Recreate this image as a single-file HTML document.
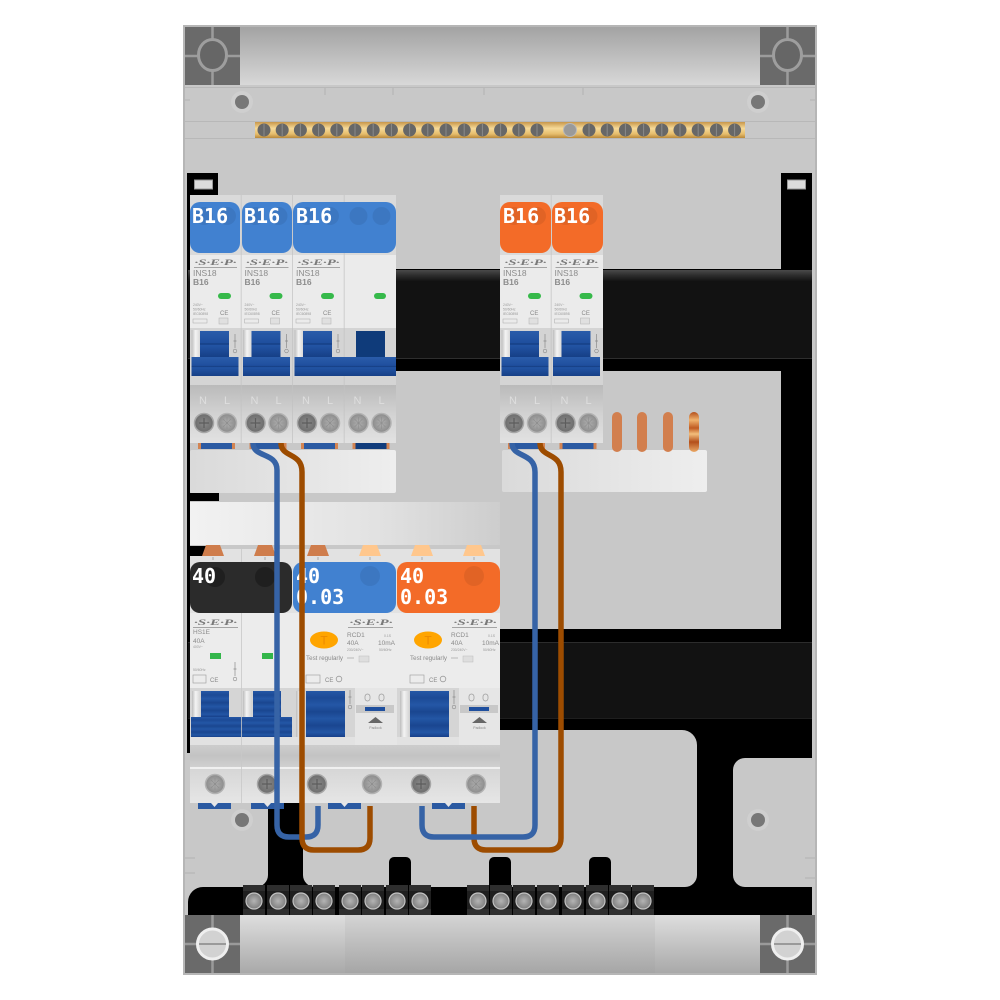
<!DOCTYPE html>
<html><head><meta charset="utf-8">
<style>
html,body{margin:0;padding:0;background:#fff;}
svg{display:block;}
.lg{font-family:"Liberation Serif",serif;font-style:italic;font-weight:bold;font-size:8.5px;fill:#7a7a7a;}
.s8{font-family:"Liberation Sans",sans-serif;font-size:8.5px;fill:#8c8c8c;}
.s8b{font-family:"Liberation Sans",sans-serif;font-size:8.5px;font-weight:bold;fill:#8c8c8c;}
.s7{font-family:"Liberation Sans",sans-serif;font-size:6.5px;fill:#8a8a8a;}
.s6{font-family:"Liberation Sans",sans-serif;font-size:4px;fill:#999;}
.t3{font-family:"Liberation Sans",sans-serif;font-size:3.4px;fill:#999;}
.ce{font-family:"Liberation Sans",sans-serif;font-size:6px;fill:#888;}
.nl{font-family:"Liberation Sans",sans-serif;font-size:11px;fill:#dedede;}
.cap{font-family:"DejaVu Sans Mono","Liberation Mono",monospace;font-weight:bold;font-size:20px;fill:#fff;}
</style></head><body>
<svg width="1000" height="1000" viewBox="0 0 1000 1000" xmlns="http://www.w3.org/2000/svg">
<defs>
<linearGradient id="gTop" x1="0" y1="0" x2="0" y2="1"><stop offset="0" stop-color="#a3a3a3"/><stop offset="1" stop-color="#d8d8d8"/></linearGradient>
<linearGradient id="gBot" x1="0" y1="0" x2="0" y2="1"><stop offset="0" stop-color="#dedede"/><stop offset="1" stop-color="#a9a9a9"/></linearGradient>
<linearGradient id="gBot2" x1="0" y1="0" x2="0" y2="1"><stop offset="0" stop-color="#d4d4d4"/><stop offset="1" stop-color="#a6a6a6"/></linearGradient>
<linearGradient id="gGold" x1="0" y1="0" x2="0" y2="1"><stop offset="0" stop-color="#c8974a"/><stop offset=".4" stop-color="#f6da98"/><stop offset=".75" stop-color="#e6bd6c"/><stop offset="1" stop-color="#b9893a"/></linearGradient>
<linearGradient id="gBlue" x1="0" y1="0" x2="0" y2="1"><stop offset="0" stop-color="#2a5caa"/><stop offset=".45" stop-color="#1f4f9e"/><stop offset=".5" stop-color="#143c80"/><stop offset=".55" stop-color="#2254a4"/><stop offset="1" stop-color="#163f86"/></linearGradient>
<linearGradient id="gBlue2" x1="0" y1="0" x2="0" y2="1"><stop offset="0" stop-color="#2457a6"/><stop offset=".15" stop-color="#1c4a96"/><stop offset=".3" stop-color="#2457a6"/><stop offset=".45" stop-color="#1a4690"/><stop offset=".6" stop-color="#2356a5"/><stop offset=".75" stop-color="#1a4690"/><stop offset=".9" stop-color="#2356a5"/><stop offset="1" stop-color="#17408a"/></linearGradient>
<linearGradient id="gWs" x1="0" y1="0" x2="1" y2="0"><stop offset="0" stop-color="#bdbdbd"/><stop offset=".4" stop-color="#f4f4f4"/><stop offset="1" stop-color="#d0d0d0"/></linearGradient>
<linearGradient id="gTerm" x1="0" y1="0" x2="0" y2="1"><stop offset="0" stop-color="#bababa"/><stop offset=".5" stop-color="#d2d2d2"/><stop offset="1" stop-color="#e2e2e2"/></linearGradient>
<linearGradient id="gBand" x1="0" y1="0" x2="0" y2="1"><stop offset="0" stop-color="#cdcdcd"/><stop offset=".5" stop-color="#c3c3c3"/><stop offset="1" stop-color="#d0d0d0"/></linearGradient>
<linearGradient id="gTerm2" x1="0" y1="0" x2="0" y2="1"><stop offset="0" stop-color="#d6d6d6"/><stop offset="1" stop-color="#e6e6e6"/></linearGradient>
<radialGradient id="gSd"><stop offset="0" stop-color="#8a8a8a"/><stop offset="1" stop-color="#6c6c6c"/></radialGradient>
<radialGradient id="gSl"><stop offset="0" stop-color="#b4b4b4"/><stop offset="1" stop-color="#8a8a8a"/></radialGradient>
<radialGradient id="gSt"><stop offset="0" stop-color="#b4b4b4"/><stop offset="1" stop-color="#7e7e7e"/></radialGradient>
<linearGradient id="gComb" x1="0" y1="0" x2="1" y2="0"><stop offset="0" stop-color="#dadada"/><stop offset="1" stop-color="#eeeeee"/></linearGradient>
<linearGradient id="gComb2" x1="0" y1="0" x2="1" y2="0"><stop offset="0" stop-color="#f2f2f2"/><stop offset=".6" stop-color="#e2e2e2"/><stop offset="1" stop-color="#cdcdcd"/></linearGradient>
<linearGradient id="gRailHi" x1="0" y1="0" x2="0" y2="1"><stop offset="0" stop-color="#4a4a4a"/><stop offset=".5" stop-color="#2c2c2c"/><stop offset="1" stop-color="#141414"/></linearGradient>
<linearGradient id="gPin" x1="0" y1="0" x2="0" y2="1"><stop offset="0" stop-color="#b4501c"/><stop offset=".2" stop-color="#f0b26e"/><stop offset=".4" stop-color="#c05a22"/><stop offset=".55" stop-color="#f3be7c"/><stop offset=".75" stop-color="#b34e1a"/><stop offset="1" stop-color="#eaa866"/></linearGradient>
</defs>

<!-- enclosure -->
<rect x="183" y="25" width="634" height="950" fill="#b6b6b6"/>
<rect x="185" y="27" width="630" height="946" fill="#c8c8c8"/>
<line x1="185" y1="87.5" x2="815" y2="87.5" stroke="#b8b8b8" stroke-width="1"/>
<line x1="185" y1="121.5" x2="815" y2="121.5" stroke="#b8b8b8" stroke-width="1"/>
<line x1="185" y1="138.5" x2="815" y2="138.5" stroke="#b8b8b8" stroke-width="1"/>
<path d="M325 88v7M393 88v7M484 88v7M583 88v7M185 858h10M185 873h10M805 858h10M805 878h10M190 100h-5M810 100h5" stroke="#b2b2b2" stroke-width="1"/>

<!-- top strip + corners -->
<rect x="240" y="27" width="520" height="58" fill="url(#gTop)"/>
<g>
<rect x="185" y="27" width="55" height="58" fill="#6a6a6a"/>
<path d="M212.5 27v58M185 56h55" stroke="#9c9c9c" stroke-width="2.5"/>
<ellipse cx="212.5" cy="55" rx="14" ry="15.5" fill="#666" stroke="#9e9e9e" stroke-width="3"/>
<rect x="760" y="27" width="55" height="58" fill="#6a6a6a"/>
<path d="M787.5 27v58M760 56h55" stroke="#9c9c9c" stroke-width="2.5"/>
<ellipse cx="787.5" cy="55" rx="14" ry="15.5" fill="#666" stroke="#9e9e9e" stroke-width="3"/>
</g>

<!-- screw holes -->
<circle cx="242" cy="102" r="11" fill="#cfcfcf"/><circle cx="242" cy="102" r="7" fill="#777"/>
<circle cx="758" cy="102" r="11" fill="#cfcfcf"/><circle cx="758" cy="102" r="7" fill="#777"/>
<circle cx="242" cy="820" r="11" fill="#cfcfcf"/><circle cx="242" cy="820" r="7" fill="#777"/>
<circle cx="758" cy="820" r="11" fill="#cfcfcf"/><circle cx="758" cy="820" r="7" fill="#777"/>

<!-- busbar -->
<rect x="255" y="122" width="490" height="16" fill="url(#gGold)"/>
<g fill="#676767">
<circle cx="264" cy="130" r="6.5"/><circle cx="282.2" cy="130" r="6.5"/><circle cx="300.4" cy="130" r="6.5"/><circle cx="318.6" cy="130" r="6.5"/><circle cx="336.8" cy="130" r="6.5"/><circle cx="355" cy="130" r="6.5"/><circle cx="373.2" cy="130" r="6.5"/><circle cx="391.4" cy="130" r="6.5"/><circle cx="409.6" cy="130" r="6.5"/><circle cx="427.8" cy="130" r="6.5"/><circle cx="446" cy="130" r="6.5"/><circle cx="464.2" cy="130" r="6.5"/><circle cx="482.4" cy="130" r="6.5"/><circle cx="500.6" cy="130" r="6.5"/><circle cx="518.8" cy="130" r="6.5"/><circle cx="537" cy="130" r="6.5"/>
<circle cx="589" cy="130" r="6.5"/><circle cx="607.2" cy="130" r="6.5"/><circle cx="625.4" cy="130" r="6.5"/><circle cx="643.6" cy="130" r="6.5"/><circle cx="661.8" cy="130" r="6.5"/><circle cx="680" cy="130" r="6.5"/><circle cx="698.2" cy="130" r="6.5"/><circle cx="716.4" cy="130" r="6.5"/><circle cx="734.6" cy="130" r="6.5"/>
</g>
<circle cx="570" cy="130" r="6.5" fill="#9a9a9a" stroke="#b8b8b8" stroke-width="1"/>
<path d="M264 124v12M282.2 124v12M300.4 124v12M318.6 124v12M336.8 124v12M355 124v12M373.2 124v12M391.4 124v12M409.6 124v12M427.8 124v12M446 124v12M464.2 124v12M482.4 124v12M500.6 124v12M518.8 124v12M537 124v12M589 124v12M607.2 124v12M625.4 124v12M643.6 124v12M661.8 124v12M680 124v12M698.2 124v12M716.4 124v12M734.6 124v12" stroke="#8a8a8a" stroke-width="1"/>
<path d="M258 130h285M583 130h158" stroke="#8a8a8a" stroke-width="0" />

<!-- black structure -->
<rect x="187" y="173" width="3" height="580" fill="#000"/>
<rect x="188" y="173" width="30" height="23" fill="#000"/>
<rect x="194.5" y="180" width="18" height="9" fill="#dcdcdc" stroke="#999" stroke-width="1"/>
<rect x="781" y="173" width="31" height="585" fill="#000"/>
<rect x="787.5" y="180" width="18" height="9" fill="#dcdcdc" stroke="#999" stroke-width="1"/>
<!-- top rail -->
<rect x="188" y="269" width="624" height="102" fill="#000"/>
<rect x="188" y="270" width="624" height="11" fill="url(#gRailHi)"/>
<rect x="188" y="281" width="624" height="77" fill="#121212"/>
<line x1="188" y1="358.5" x2="812" y2="358.5" stroke="#2e2e2e"/>
<!-- lower rail -->
<rect x="188" y="629" width="624" height="101" fill="#000"/>
<rect x="188" y="642" width="624" height="76" fill="#121212"/>
<line x1="188" y1="642.5" x2="812" y2="642.5" stroke="#2c2c2c"/>
<line x1="188" y1="718.5" x2="812" y2="718.5" stroke="#1e1e1e"/>
<!-- right I-beam -->
<rect x="697" y="729" width="115" height="29" fill="#000"/>
<rect x="697" y="729" width="36" height="160" fill="#000"/>
<path d="M682 730 L697 730 L697 745 A15 15 0 0 0 682 730 Z" fill="#000"/>
<path d="M697 875 L697 887 L685 887 A12 12 0 0 0 697 875 Z" fill="#000"/>
<path d="M733 758 L745 758 A12 12 0 0 0 733 770 Z" fill="#000"/>
<path d="M733 887 L745 887 A12 12 0 0 1 733 875 Z" fill="#000"/>
<!-- left stem -->
<rect x="268" y="795" width="35" height="94" fill="#000"/>
<path d="M268 875 L268 887 L256 887 A12 12 0 0 0 268 875 Z" fill="#000"/>
<path d="M303 875 L303 887 L315 887 A12 12 0 0 1 303 875 Z" fill="#000"/>
<!-- tabs -->
<rect x="389" y="857" width="22" height="35" rx="5" fill="#000"/>
<rect x="489" y="857" width="22" height="35" rx="5" fill="#000"/>
<rect x="589" y="857" width="22" height="35" rx="5" fill="#000"/>
<!-- bottom bar -->
<path d="M188 915 L188 902 A15 15 0 0 1 203 887 L812 887 L812 915 Z" fill="#000"/>

<!-- terminal blocks -->
<g>
<g fill="#1f1f1f">
<rect x="243" y="885" width="22" height="31"/><rect x="267" y="885" width="22" height="31"/><rect x="290" y="885" width="22" height="31"/><rect x="313" y="885" width="22" height="31"/><rect x="339" y="885" width="22" height="31"/><rect x="362" y="885" width="22" height="31"/><rect x="386" y="885" width="22" height="31"/><rect x="409" y="885" width="22" height="31"/>
<rect x="467" y="885" width="22" height="31"/><rect x="490" y="885" width="22" height="31"/><rect x="513" y="885" width="22" height="31"/><rect x="537" y="885" width="22" height="31"/><rect x="562" y="885" width="22" height="31"/><rect x="586" y="885" width="22" height="31"/><rect x="609" y="885" width="22" height="31"/><rect x="632" y="885" width="22" height="31"/>
</g>
<g fill="#2e2e2e">
<rect x="243" y="885" width="22" height="6"/><rect x="267" y="885" width="22" height="6"/><rect x="290" y="885" width="22" height="6"/><rect x="313" y="885" width="22" height="6"/><rect x="339" y="885" width="22" height="6"/><rect x="362" y="885" width="22" height="6"/><rect x="386" y="885" width="22" height="6"/><rect x="409" y="885" width="22" height="6"/>
<rect x="467" y="885" width="22" height="6"/><rect x="490" y="885" width="22" height="6"/><rect x="513" y="885" width="22" height="6"/><rect x="537" y="885" width="22" height="6"/><rect x="562" y="885" width="22" height="6"/><rect x="586" y="885" width="22" height="6"/><rect x="609" y="885" width="22" height="6"/><rect x="632" y="885" width="22" height="6"/>
<rect x="243" y="909" width="22" height="6"/><rect x="267" y="909" width="22" height="6"/><rect x="290" y="909" width="22" height="6"/><rect x="313" y="909" width="22" height="6"/><rect x="339" y="909" width="22" height="6"/><rect x="362" y="909" width="22" height="6"/><rect x="386" y="909" width="22" height="6"/><rect x="409" y="909" width="22" height="6"/>
<rect x="467" y="909" width="22" height="6"/><rect x="490" y="909" width="22" height="6"/><rect x="513" y="909" width="22" height="6"/><rect x="537" y="909" width="22" height="6"/><rect x="562" y="909" width="22" height="6"/><rect x="586" y="909" width="22" height="6"/><rect x="609" y="909" width="22" height="6"/><rect x="632" y="909" width="22" height="6"/>
</g>
<g fill="url(#gSt)" stroke="#c4c4c4" stroke-width="1.2">
<circle cx="254" cy="901" r="8"/><circle cx="278" cy="901" r="8"/><circle cx="301" cy="901" r="8"/><circle cx="324" cy="901" r="8"/><circle cx="350" cy="901" r="8"/><circle cx="373" cy="901" r="8"/><circle cx="397" cy="901" r="8"/><circle cx="420" cy="901" r="8"/>
<circle cx="478" cy="901" r="8"/><circle cx="501" cy="901" r="8"/><circle cx="524" cy="901" r="8"/><circle cx="548" cy="901" r="8"/><circle cx="573" cy="901" r="8"/><circle cx="597" cy="901" r="8"/><circle cx="620" cy="901" r="8"/><circle cx="643" cy="901" r="8"/>
</g>
</g>

<!-- bottom strip + corners -->
<rect x="240" y="915" width="105" height="58" fill="url(#gBot)"/>
<rect x="345" y="915" width="310" height="58" fill="url(#gBot2)"/>
<rect x="655" y="915" width="105" height="58" fill="url(#gBot)"/>
<rect x="185" y="915" width="55" height="58" fill="#6a6a6a"/>
<path d="M212.5 915v58M185 944h55" stroke="#9a9a9a" stroke-width="2.5"/>
<circle cx="212.5" cy="944" r="15" fill="#d2d2d2" stroke="#efefef" stroke-width="3"/>
<line x1="199" y1="944" x2="226" y2="944" stroke="#9a9a9a" stroke-width="2"/>
<rect x="760" y="915" width="55" height="58" fill="#6a6a6a"/>
<path d="M787.5 915v58M760 944h55" stroke="#9a9a9a" stroke-width="2.5"/>
<circle cx="787.5" cy="944" r="15" fill="#d2d2d2" stroke="#efefef" stroke-width="3"/>
<line x1="774" y1="944" x2="801" y2="944" stroke="#9a9a9a" stroke-width="2"/>

<!-- comb busbars -->
<rect x="190" y="450" width="206" height="43" rx="2" fill="url(#gComb)"/>
<rect x="502" y="450" width="205" height="42" rx="2" fill="url(#gComb)"/>
<rect x="188" y="493" width="31" height="8" fill="#000"/>
<rect x="190" y="502" width="310" height="43" fill="url(#gComb2)"/>
<!-- copper pins right -->
<rect x="612" y="412" width="10" height="40" rx="5" fill="#d27f4e"/>
<rect x="637" y="412" width="10" height="40" rx="5" fill="#d27f4e"/>
<rect x="663" y="412" width="10" height="40" rx="5" fill="#d27f4e"/>
<rect x="689" y="412" width="10" height="40" rx="5" fill="url(#gPin)"/>

<!-- ===== TOP MODULES ===== -->
<!-- template module at 190 -->
<g transform="translate(190,0)">
<rect x="0" y="195" width="51.5" height="248" fill="#dadada"/>
<rect x="0" y="255" width="51.5" height="73" fill="#ebebeb"/>
<text class="lg" x="25.5" y="265" text-anchor="middle" textLength="42" lengthAdjust="spacingAndGlyphs">·S·E·P·</text>
<line x1="4" y1="267.5" x2="47" y2="267.5" stroke="#8c8c8c" stroke-width=".8"/>
<text class="s8" x="3" y="276">INS18</text>
<text class="s8b" x="3" y="285">B16</text>
<rect x="28" y="293" width="13" height="6" rx="3" fill="#36b94a"/>
<text class="t3" x="3" y="306">240V~</text><text class="t3" x="3" y="310.5">50/60Hz</text><text class="t3" x="3" y="315">IEC60898</text>
<text class="ce" x="30" y="315">CE</text>
<rect x="3" y="319" width="14" height="4" fill="none" stroke="#aaa" stroke-width=".5"/>
<rect x="29" y="318" width="9" height="6" fill="#e0e0e0" stroke="#b0b0b0" stroke-width=".5"/>
<rect x="0" y="328" width="51.5" height="57" fill="#d4d4d4"/>
<rect x="1.5" y="330" width="10" height="27" fill="url(#gWs)"/>
<rect x="10" y="331" width="29" height="26" fill="url(#gBlue)"/>
<rect x="1.5" y="357" width="47" height="19" fill="url(#gBlue)"/>
<path d="M45 334v14M43.5 341h3" stroke="#8a8a8a" stroke-width=".7"/><circle cx="45" cy="351" r="1.8" fill="none" stroke="#8a8a8a" stroke-width=".6"/>
<rect x="0" y="385" width="51.5" height="58" fill="url(#gTerm)"/>
<text class="nl" x="9" y="404">N</text><text class="nl" x="34" y="404">L</text>
<circle cx="14" cy="423" r="9.5" fill="url(#gSd)" stroke="#a6a6a6" stroke-width="1.5"/>
<path d="M9 423h10M14 418v10" stroke="#5c5c5c" stroke-width="1.2"/>
<circle cx="37" cy="423" r="9.5" fill="url(#gSl)" stroke="#b2b2b2" stroke-width="1.5"/>
<path d="M31 423h12M37 417v12M33 419l8 8M41 419l-8 8" stroke="#8e8e8e" stroke-width=".6"/>
<rect x="8" y="443" width="37" height="6" fill="#2b5aa2"/><rect x="8" y="443" width="3" height="6" fill="#d38452"/><rect x="42" y="443" width="3" height="6" fill="#d38452"/>
<line x1="51.2" y1="195" x2="51.2" y2="443" stroke="#c2c2c2" stroke-width=".8"/>
</g>
<g transform="translate(241.5,0)">
<rect x="0" y="195" width="51.5" height="248" fill="#dadada"/>
<rect x="0" y="255" width="51.5" height="73" fill="#ebebeb"/>
<text class="lg" x="25.5" y="265" text-anchor="middle" textLength="42" lengthAdjust="spacingAndGlyphs">·S·E·P·</text>
<line x1="4" y1="267.5" x2="47" y2="267.5" stroke="#8c8c8c" stroke-width=".8"/>
<text class="s8" x="3" y="276">INS18</text>
<text class="s8b" x="3" y="285">B16</text>
<rect x="28" y="293" width="13" height="6" rx="3" fill="#36b94a"/>
<text class="t3" x="3" y="306">240V~</text><text class="t3" x="3" y="310.5">50/60Hz</text><text class="t3" x="3" y="315">IEC60898</text>
<text class="ce" x="30" y="315">CE</text>
<rect x="3" y="319" width="14" height="4" fill="none" stroke="#aaa" stroke-width=".5"/>
<rect x="29" y="318" width="9" height="6" fill="#e0e0e0" stroke="#b0b0b0" stroke-width=".5"/>
<rect x="0" y="328" width="51.5" height="57" fill="#d4d4d4"/>
<rect x="1.5" y="330" width="10" height="27" fill="url(#gWs)"/>
<rect x="10" y="331" width="29" height="26" fill="url(#gBlue)"/>
<rect x="1.5" y="357" width="47" height="19" fill="url(#gBlue)"/>
<path d="M45 334v14M43.5 341h3" stroke="#8a8a8a" stroke-width=".7"/><circle cx="45" cy="351" r="1.8" fill="none" stroke="#8a8a8a" stroke-width=".6"/>
<rect x="0" y="385" width="51.5" height="58" fill="url(#gTerm)"/>
<text class="nl" x="9" y="404">N</text><text class="nl" x="34" y="404">L</text>
<circle cx="14" cy="423" r="9.5" fill="url(#gSd)" stroke="#a6a6a6" stroke-width="1.5"/>
<path d="M9 423h10M14 418v10" stroke="#5c5c5c" stroke-width="1.2"/>
<circle cx="37" cy="423" r="9.5" fill="url(#gSl)" stroke="#b2b2b2" stroke-width="1.5"/>
<path d="M31 423h12M37 417v12M33 419l8 8M41 419l-8 8" stroke="#8e8e8e" stroke-width=".6"/>
<rect x="8" y="443" width="37" height="6" fill="#2b5aa2"/><rect x="8" y="443" width="3" height="6" fill="#d38452"/><rect x="42" y="443" width="3" height="6" fill="#d38452"/>
<line x1="51.2" y1="195" x2="51.2" y2="443" stroke="#c2c2c2" stroke-width=".8"/>
</g>
<g transform="translate(293,0)">
<rect x="0" y="195" width="51.5" height="248" fill="#dadada"/>
<rect x="0" y="255" width="51.5" height="73" fill="#ebebeb"/>
<text class="lg" x="25.5" y="265" text-anchor="middle" textLength="42" lengthAdjust="spacingAndGlyphs">·S·E·P·</text>
<line x1="4" y1="267.5" x2="47" y2="267.5" stroke="#8c8c8c" stroke-width=".8"/>
<text class="s8" x="3" y="276">INS18</text>
<text class="s8b" x="3" y="285">B16</text>
<rect x="28" y="293" width="13" height="6" rx="3" fill="#36b94a"/>
<text class="t3" x="3" y="306">240V~</text><text class="t3" x="3" y="310.5">50/60Hz</text><text class="t3" x="3" y="315">IEC60898</text>
<text class="ce" x="30" y="315">CE</text>
<rect x="3" y="319" width="14" height="4" fill="none" stroke="#aaa" stroke-width=".5"/>
<rect x="29" y="318" width="9" height="6" fill="#e0e0e0" stroke="#b0b0b0" stroke-width=".5"/>
<rect x="0" y="328" width="51.5" height="57" fill="#d4d4d4"/>
<rect x="1.5" y="330" width="10" height="27" fill="url(#gWs)"/>
<rect x="10" y="331" width="29" height="26" fill="url(#gBlue)"/>
<path d="M45 334v14M43.5 341h3" stroke="#8a8a8a" stroke-width=".7"/><circle cx="45" cy="351" r="1.8" fill="none" stroke="#8a8a8a" stroke-width=".6"/>
<rect x="0" y="385" width="51.5" height="58" fill="url(#gTerm)"/>
<text class="nl" x="9" y="404">N</text><text class="nl" x="34" y="404">L</text>
<circle cx="14" cy="423" r="9.5" fill="url(#gSd)" stroke="#a6a6a6" stroke-width="1.5"/>
<path d="M9 423h10M14 418v10" stroke="#5c5c5c" stroke-width="1.2"/>
<circle cx="37" cy="423" r="9.5" fill="url(#gSl)" stroke="#b2b2b2" stroke-width="1.5"/>
<path d="M31 423h12M37 417v12M33 419l8 8M41 419l-8 8" stroke="#8e8e8e" stroke-width=".6"/>
<rect x="8" y="443" width="37" height="6" fill="#2b5aa2"/><rect x="8" y="443" width="3" height="6" fill="#d38452"/><rect x="42" y="443" width="3" height="6" fill="#d38452"/>
<line x1="51.2" y1="195" x2="51.2" y2="443" stroke="#c2c2c2" stroke-width=".8"/>
</g>
<g transform="translate(344.5,0)">
<rect x="0" y="195" width="51.5" height="248" fill="#dadada"/>
<rect x="0" y="255" width="51.5" height="73" fill="#ebebeb"/>
<rect x="29.5" y="293" width="12" height="6" rx="3" fill="#36b94a"/>
<rect x="0" y="328" width="51.5" height="57" fill="#d4d4d4"/>
<rect x="11.5" y="331" width="29" height="26" fill="#0f3b7a"/>
<rect x="0" y="385" width="51.5" height="58" fill="url(#gTerm)"/>
<text class="nl" x="9" y="404">N</text><text class="nl" x="34" y="404">L</text>
<circle cx="14" cy="423" r="9.5" fill="url(#gSl)" stroke="#b2b2b2" stroke-width="1.5"/>
<path d="M8 423h12M14 417v12M10 419l8 8M18 419l-8 8" stroke="#8e8e8e" stroke-width=".6"/>
<circle cx="37" cy="423" r="9.5" fill="url(#gSl)" stroke="#b2b2b2" stroke-width="1.5"/>
<path d="M31 423h12M37 417v12M33 419l8 8M41 419l-8 8" stroke="#8e8e8e" stroke-width=".6"/>
<rect x="8" y="443" width="37" height="6" fill="#123d7c"/><rect x="8" y="443" width="3" height="6" fill="#d38452"/><rect x="42" y="443" width="3" height="6" fill="#d38452"/>
</g>
<rect x="294.5" y="357" width="101.5" height="19" fill="url(#gBlue)"/>
<!-- right group -->
<g transform="translate(500,0)">
<rect x="0" y="195" width="51.5" height="248" fill="#dadada"/>
<rect x="0" y="255" width="51.5" height="73" fill="#ebebeb"/>
<text class="lg" x="25.5" y="265" text-anchor="middle" textLength="42" lengthAdjust="spacingAndGlyphs">·S·E·P·</text>
<line x1="4" y1="267.5" x2="47" y2="267.5" stroke="#8c8c8c" stroke-width=".8"/>
<text class="s8" x="3" y="276">INS18</text>
<text class="s8b" x="3" y="285">B16</text>
<rect x="28" y="293" width="13" height="6" rx="3" fill="#36b94a"/>
<text class="t3" x="3" y="306">240V~</text><text class="t3" x="3" y="310.5">50/60Hz</text><text class="t3" x="3" y="315">IEC60898</text>
<text class="ce" x="30" y="315">CE</text>
<rect x="3" y="319" width="14" height="4" fill="none" stroke="#aaa" stroke-width=".5"/>
<rect x="29" y="318" width="9" height="6" fill="#e0e0e0" stroke="#b0b0b0" stroke-width=".5"/>
<rect x="0" y="328" width="51.5" height="57" fill="#d4d4d4"/>
<rect x="1.5" y="330" width="10" height="27" fill="url(#gWs)"/>
<rect x="10" y="331" width="29" height="26" fill="url(#gBlue)"/>
<rect x="1.5" y="357" width="47" height="19" fill="url(#gBlue)"/>
<path d="M45 334v14M43.5 341h3" stroke="#8a8a8a" stroke-width=".7"/><circle cx="45" cy="351" r="1.8" fill="none" stroke="#8a8a8a" stroke-width=".6"/>
<rect x="0" y="385" width="51.5" height="58" fill="url(#gTerm)"/>
<text class="nl" x="9" y="404">N</text><text class="nl" x="34" y="404">L</text>
<circle cx="14" cy="423" r="9.5" fill="url(#gSd)" stroke="#a6a6a6" stroke-width="1.5"/>
<path d="M9 423h10M14 418v10" stroke="#5c5c5c" stroke-width="1.2"/>
<circle cx="37" cy="423" r="9.5" fill="url(#gSl)" stroke="#b2b2b2" stroke-width="1.5"/>
<path d="M31 423h12M37 417v12M33 419l8 8M41 419l-8 8" stroke="#8e8e8e" stroke-width=".6"/>
<rect x="8" y="443" width="37" height="6" fill="#2b5aa2"/><rect x="8" y="443" width="3" height="6" fill="#d38452"/><rect x="42" y="443" width="3" height="6" fill="#d38452"/>
<line x1="51.2" y1="195" x2="51.2" y2="443" stroke="#c2c2c2" stroke-width=".8"/>
</g>
<g transform="translate(551.5,0)">
<rect x="0" y="195" width="51.5" height="248" fill="#dadada"/>
<rect x="0" y="255" width="51.5" height="73" fill="#ebebeb"/>
<text class="lg" x="25.5" y="265" text-anchor="middle" textLength="42" lengthAdjust="spacingAndGlyphs">·S·E·P·</text>
<line x1="4" y1="267.5" x2="47" y2="267.5" stroke="#8c8c8c" stroke-width=".8"/>
<text class="s8" x="3" y="276">INS18</text>
<text class="s8b" x="3" y="285">B16</text>
<rect x="28" y="293" width="13" height="6" rx="3" fill="#36b94a"/>
<text class="t3" x="3" y="306">240V~</text><text class="t3" x="3" y="310.5">50/60Hz</text><text class="t3" x="3" y="315">IEC60898</text>
<text class="ce" x="30" y="315">CE</text>
<rect x="3" y="319" width="14" height="4" fill="none" stroke="#aaa" stroke-width=".5"/>
<rect x="29" y="318" width="9" height="6" fill="#e0e0e0" stroke="#b0b0b0" stroke-width=".5"/>
<rect x="0" y="328" width="51.5" height="57" fill="#d4d4d4"/>
<rect x="1.5" y="330" width="10" height="27" fill="url(#gWs)"/>
<rect x="10" y="331" width="29" height="26" fill="url(#gBlue)"/>
<rect x="1.5" y="357" width="47" height="19" fill="url(#gBlue)"/>
<path d="M45 334v14M43.5 341h3" stroke="#8a8a8a" stroke-width=".7"/><circle cx="45" cy="351" r="1.8" fill="none" stroke="#8a8a8a" stroke-width=".6"/>
<rect x="0" y="385" width="51.5" height="58" fill="url(#gTerm)"/>
<text class="nl" x="9" y="404">N</text><text class="nl" x="34" y="404">L</text>
<circle cx="14" cy="423" r="9.5" fill="url(#gSd)" stroke="#a6a6a6" stroke-width="1.5"/>
<path d="M9 423h10M14 418v10" stroke="#5c5c5c" stroke-width="1.2"/>
<circle cx="37" cy="423" r="9.5" fill="url(#gSl)" stroke="#b2b2b2" stroke-width="1.5"/>
<path d="M31 423h12M37 417v12M33 419l8 8M41 419l-8 8" stroke="#8e8e8e" stroke-width=".6"/>
<rect x="8" y="443" width="37" height="6" fill="#2b5aa2"/><rect x="8" y="443" width="3" height="6" fill="#d38452"/><rect x="42" y="443" width="3" height="6" fill="#d38452"/>
</g>

<!-- top caps -->
<rect x="190" y="202" width="50" height="51" rx="10" fill="#4181d0"/>
<rect x="242" y="202" width="50" height="51" rx="10" fill="#4181d0"/>
<rect x="293" y="202" width="103" height="51" rx="10" fill="#4181d0"/>
<rect x="500" y="202" width="51" height="51" rx="10" fill="#f36b28"/>
<rect x="552" y="202" width="51" height="51" rx="10" fill="#f36b28"/>
<g fill="#000" fill-opacity=".07">
<circle cx="204" cy="216" r="9"/><circle cx="227" cy="216" r="9"/>
<circle cx="255.5" cy="216" r="9"/><circle cx="278.5" cy="216" r="9"/>
<circle cx="307" cy="216" r="9"/><circle cx="330" cy="216" r="9"/>
<circle cx="358.5" cy="216" r="9"/><circle cx="381.5" cy="216" r="9"/>
<circle cx="514" cy="216" r="9"/><circle cx="537" cy="216" r="9"/>
<circle cx="565.5" cy="216" r="9"/><circle cx="588.5" cy="216" r="9"/>
</g>
<text class="cap" x="192" y="223">B16</text>
<text class="cap" x="244" y="223">B16</text>
<text class="cap" x="296" y="223">B16</text>
<text class="cap" x="503" y="223">B16</text>
<text class="cap" x="554" y="223">B16</text>

<!-- ===== LOWER MODULES ===== -->
<!-- HS1E -->
<g>
<rect x="190" y="549" width="103" height="254" fill="#e2e2e2"/>
<rect x="190" y="613" width="103" height="75" fill="#ececec"/>
<text class="lg" x="215.5" y="625" text-anchor="middle" textLength="43" lengthAdjust="spacingAndGlyphs">·S·E·P·</text>
<line x1="193" y1="627.5" x2="238" y2="627.5" stroke="#8c8c8c" stroke-width=".8"/>
<text class="s7" x="193" y="634">HS1E</text>
<text class="s7" x="193" y="643">40A</text>
<text class="t3" x="193" y="648">400V~</text>
<rect x="210" y="653" width="11" height="6" fill="#33b64a"/>
<rect x="262" y="653" width="11" height="6" fill="#33b64a"/>
<text class="t3" x="193" y="671">50/60Hz</text>
<rect x="193" y="675" width="13" height="8" fill="none" stroke="#999" stroke-width=".6"/>
<text class="ce" x="210" y="682">CE</text>
<path d="M235 662v14M233.5 669h3" stroke="#8a8a8a" stroke-width=".7"/><circle cx="235" cy="679" r="1.8" fill="none" stroke="#8a8a8a" stroke-width=".6"/>
<rect x="190" y="688" width="103" height="49" fill="#d5d5d5"/>
<rect x="190" y="737" width="103" height="8" fill="#e2e2e2"/>
<rect x="192" y="691" width="9" height="26" fill="url(#gWs)"/>
<rect x="243" y="691" width="9" height="26" fill="url(#gWs)"/>
<rect x="201" y="691" width="28" height="26" fill="url(#gBlue2)"/>
<rect x="253" y="691" width="28" height="26" fill="url(#gBlue2)"/>
<rect x="191" y="717" width="101" height="20" fill="url(#gBlue2)"/>
<rect x="190" y="745" width="103" height="22" fill="url(#gBand)"/>
<rect x="190" y="767" width="103" height="2" fill="#f0f0f0"/>
<rect x="190" y="769" width="103" height="34" fill="url(#gTerm2)"/>
<line x1="241.5" y1="549" x2="241.5" y2="803" stroke="#c8c8c8" stroke-width=".8"/>
<circle cx="215" cy="784" r="9.5" fill="url(#gSl)" stroke="#b2b2b2" stroke-width="1.5"/>
<path d="M209 784h12M215 778v12M211 780l8 8M219 780l-8 8" stroke="#8e8e8e" stroke-width=".6"/>
<circle cx="267" cy="784" r="9.5" fill="url(#gSd)" stroke="#a6a6a6" stroke-width="1.5"/>
<path d="M262 784h10M267 779v10" stroke="#5c5c5c" stroke-width="1.2"/>
<path d="M198 803h33v6h-33z" fill="#2b5aa2"/><path d="M211 803h7l-3.5 4z" fill="#e8e8e8"/>
<path d="M251 803h33v6h-33z" fill="#2b5aa2"/><path d="M264 803h7l-3.5 4z" fill="#e8e8e8"/>
<rect x="190" y="562" width="102" height="51" rx="10" fill="#2b2b2b"/>
<circle cx="215" cy="577" r="10" fill="#1f1f1f"/><circle cx="265" cy="577" r="10" fill="#1f1f1f"/>
<text class="cap" x="192" y="583">40</text>
</g>

<!-- RCD blue -->
<g transform="translate(293,0)">
<rect x="0" y="549" width="104" height="254" fill="#e2e2e2"/>
<rect x="0" y="613" width="104" height="75" fill="#ececec"/>
<text class="lg" x="78" y="625" text-anchor="middle" textLength="43" lengthAdjust="spacingAndGlyphs">·S·E·P·</text>
<line x1="55" y1="627.5" x2="100" y2="627.5" stroke="#8c8c8c" stroke-width=".8"/>
<ellipse cx="31" cy="640" rx="14" ry="8.5" fill="#ffa500"/>
<text x="31" y="644.5" text-anchor="middle" font-family="Liberation Sans, sans-serif" font-size="12" fill="#ec8a00">T</text>
<text class="s7" x="13" y="660" textLength="37" lengthAdjust="spacingAndGlyphs">Test regularly</text>
<text class="s7" x="54" y="637">RCD1</text>
<text class="s7" x="54" y="645">40A</text>
<text class="t3" x="54" y="651">230/240V~</text>
<text class="t3" x="91" y="637">0.1S</text>
<text class="s7" x="85" y="645">10mA</text>
<text class="t3" x="86" y="651">50/60Hz</text>
<line x1="54" y1="658" x2="61" y2="658" stroke="#aaa" stroke-width=".8"/>
<rect x="66" y="656" width="10" height="6" fill="#dedede" stroke="#bbb" stroke-width=".5"/>
<rect x="13" y="675" width="14" height="8" fill="none" stroke="#999" stroke-width=".6"/>
<text class="ce" x="32" y="682">CE</text>
<circle cx="46" cy="679" r="2.8" fill="none" stroke="#999" stroke-width=".8"/>
<rect x="0" y="688" width="104" height="49" fill="#d5d5d5"/>
<rect x="62" y="688" width="42" height="57" fill="#e6e6e6"/>
<rect x="0" y="737" width="62" height="8" fill="#e2e2e2"/>
<rect x="3" y="691" width="10" height="46" fill="url(#gWs)"/>
<rect x="13" y="691" width="39" height="46" fill="url(#gBlue2)"/>
<path d="M57 690v14M55.5 697h3" stroke="#8a8a8a" stroke-width=".7"/><circle cx="57" cy="707" r="1.8" fill="none" stroke="#8a8a8a" stroke-width=".6"/>
<rect x="72" y="694" width="5" height="7" rx="2.5" fill="none" stroke="#999" stroke-width=".7"/>
<rect x="86" y="694" width="5" height="7" rx="2.5" fill="none" stroke="#999" stroke-width=".7"/>
<rect x="63" y="705" width="38" height="8" fill="#c8c8c8"/>
<rect x="72" y="707" width="20" height="4" fill="#1f4f9e"/>
<path d="M75 723h15l-7.5-6z" fill="#666"/>
<text x="82.5" y="729" text-anchor="middle" font-family="Liberation Sans, sans-serif" font-size="3.5" fill="#888">Padlock</text>
<rect x="0" y="745" width="104" height="22" fill="url(#gBand)"/>
<rect x="0" y="767" width="104" height="2" fill="#f0f0f0"/>
<rect x="0" y="769" width="104" height="34" fill="url(#gTerm2)"/>
<circle cx="24" cy="784" r="9.5" fill="url(#gSd)" stroke="#a6a6a6" stroke-width="1.5"/>
<path d="M19 784h10M24 779v10" stroke="#5c5c5c" stroke-width="1.2"/>
<circle cx="79" cy="784" r="9.5" fill="url(#gSl)" stroke="#b2b2b2" stroke-width="1.5"/>
<path d="M73 784h12M79 778v12M75 780l8 8M83 780l-8 8" stroke="#8e8e8e" stroke-width=".6"/>
<path d="M35 803h33v6h-33z" fill="#2b5aa2"/><path d="M48 803h7l-3.5 4z" fill="#e8e8e8"/>
<rect x="0" y="562" width="103" height="51" rx="10" fill="#4181d0"/>
<circle cx="77" cy="576" r="10" fill="#000" fill-opacity=".07"/>
<text class="cap" x="3" y="583">40</text>
<text class="cap" x="3" y="604">0.03</text>
</g>

<!-- RCD orange -->
<g transform="translate(397,0)">
<rect x="0" y="549" width="103" height="254" fill="#e2e2e2"/>
<rect x="0" y="613" width="103" height="75" fill="#ececec"/>
<text class="lg" x="78" y="625" text-anchor="middle" textLength="43" lengthAdjust="spacingAndGlyphs">·S·E·P·</text>
<line x1="55" y1="627.5" x2="100" y2="627.5" stroke="#8c8c8c" stroke-width=".8"/>
<ellipse cx="31" cy="640" rx="14" ry="8.5" fill="#ffa500"/>
<text x="31" y="644.5" text-anchor="middle" font-family="Liberation Sans, sans-serif" font-size="12" fill="#ec8a00">T</text>
<text class="s7" x="13" y="660" textLength="37" lengthAdjust="spacingAndGlyphs">Test regularly</text>
<text class="s7" x="54" y="637">RCD1</text>
<text class="s7" x="54" y="645">40A</text>
<text class="t3" x="54" y="651">230/240V~</text>
<text class="t3" x="91" y="637">0.1S</text>
<text class="s7" x="85" y="645">10mA</text>
<text class="t3" x="86" y="651">50/60Hz</text>
<line x1="54" y1="658" x2="61" y2="658" stroke="#aaa" stroke-width=".8"/>
<rect x="66" y="656" width="10" height="6" fill="#dedede" stroke="#bbb" stroke-width=".5"/>
<rect x="13" y="675" width="14" height="8" fill="none" stroke="#999" stroke-width=".6"/>
<text class="ce" x="32" y="682">CE</text>
<circle cx="46" cy="679" r="2.8" fill="none" stroke="#999" stroke-width=".8"/>
<rect x="0" y="688" width="103" height="49" fill="#d5d5d5"/>
<rect x="62" y="688" width="41" height="57" fill="#e6e6e6"/>
<rect x="0" y="737" width="62" height="8" fill="#e2e2e2"/>
<rect x="3" y="691" width="10" height="46" fill="url(#gWs)"/>
<rect x="13" y="691" width="39" height="46" fill="url(#gBlue2)"/>
<path d="M57 690v14M55.5 697h3" stroke="#8a8a8a" stroke-width=".7"/><circle cx="57" cy="707" r="1.8" fill="none" stroke="#8a8a8a" stroke-width=".6"/>
<rect x="72" y="694" width="5" height="7" rx="2.5" fill="none" stroke="#999" stroke-width=".7"/>
<rect x="86" y="694" width="5" height="7" rx="2.5" fill="none" stroke="#999" stroke-width=".7"/>
<rect x="63" y="705" width="38" height="8" fill="#c8c8c8"/>
<rect x="72" y="707" width="20" height="4" fill="#1f4f9e"/>
<path d="M75 723h15l-7.5-6z" fill="#666"/>
<text x="82.5" y="729" text-anchor="middle" font-family="Liberation Sans, sans-serif" font-size="3.5" fill="#888">Padlock</text>
<rect x="0" y="745" width="103" height="22" fill="url(#gBand)"/>
<rect x="0" y="767" width="103" height="2" fill="#f0f0f0"/>
<rect x="0" y="769" width="103" height="34" fill="url(#gTerm2)"/>
<circle cx="24" cy="784" r="9.5" fill="url(#gSd)" stroke="#a6a6a6" stroke-width="1.5"/>
<path d="M19 784h10M24 779v10" stroke="#5c5c5c" stroke-width="1.2"/>
<circle cx="79" cy="784" r="9.5" fill="url(#gSl)" stroke="#b2b2b2" stroke-width="1.5"/>
<path d="M73 784h12M79 778v12M75 780l8 8M83 780l-8 8" stroke="#8e8e8e" stroke-width=".6"/>
<path d="M35 803h33v6h-33z" fill="#2b5aa2"/><path d="M48 803h7l-3.5 4z" fill="#e8e8e8"/>
<rect x="0" y="562" width="103" height="51" rx="10" fill="#f36b28"/>
<circle cx="77" cy="576" r="10" fill="#000" fill-opacity=".07"/>
<text class="cap" x="3" y="583">40</text>
<text class="cap" x="3" y="604">0.03</text>
</g>

<!-- lower top band markings & copper tops -->
<rect x="188" y="546" width="19" height="10" fill="#000"/>
<polygon points="206,545 220,545 224,556 202,556" fill="#cf7d4c"/>
<polygon points="258,545 272,545 276,556 254,556" fill="#cf7d4c"/>
<polygon points="311,545 325,545 329,556 307,556" fill="#cf7d4c"/>
<polygon points="363,545 377,545 381,556 359,556" fill="#ffc78d"/>
<polygon points="415,545 429,545 433,556 411,556" fill="#ffc78d"/>
<polygon points="467,545 481,545 485,556 463,556" fill="#ffc78d"/>
<path d="M213 557v3M265 557v3M318 557v3M370 557v3M422 557v3M474 557v3" stroke="#aaa" stroke-width="1"/>

<!-- wires -->
<g fill="none" stroke-width="5.5" stroke-linejoin="round">
<path d="M253 443 C253 458 277 452 277 470 L277 825 Q277 837 289 837 L306 837 Q318 837 318 825 L318 806" stroke="#3663a6"/>
<path d="M281 443 C281 458 302 452 302 472 L302 838 Q302 850 314 850 L358 850 Q370 850 370 838 L370 806" stroke="#9d4c00"/>
<path d="M540 443 C540 458 561 452 561 472 L561 838 Q561 850 549 850 L486 850 Q474 850 474 838 L474 806" stroke="#9d4c00"/>
<path d="M512 443 C512 458 535 452 535 472 L535 825 Q535 837 523 837 L434 837 Q422 837 422 825 L422 806" stroke="#3663a6"/>
</g>
</svg>
</body></html>
